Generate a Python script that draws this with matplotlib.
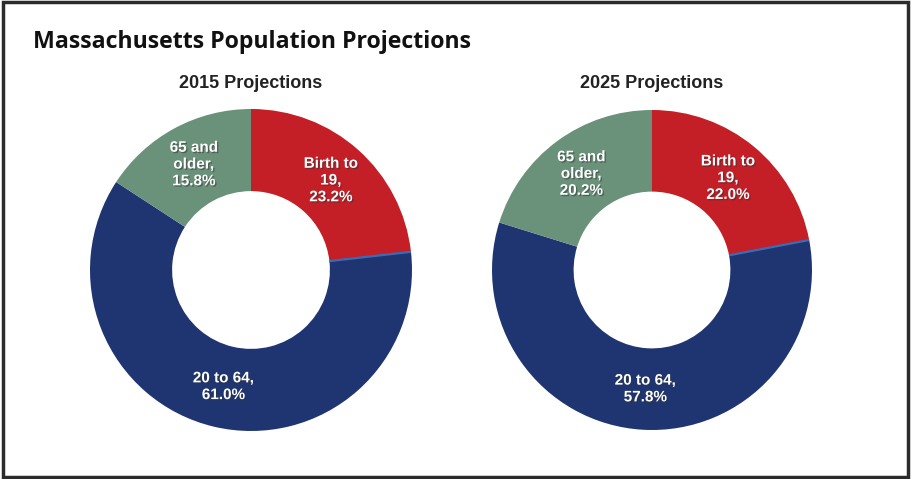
import numpy as np
import matplotlib.pyplot as plt
import matplotlib.patheffects as pe
from matplotlib.patches import Rectangle

# population shares by age group (%)
groups = ['Birth to\n19,', '20 to 64,', '65 and\nolder,']
share_2015 = [23.2, 61.0, 15.8]
share_2025 = [22.0, 57.8, 20.2]
years = ['2015 Projections', '2025 Projections']
colors = ['#C41E26', '#1F3571', '#6A917A']

W, H = 911, 479
fig = plt.figure(figsize=(W / 100, H / 100), dpi=100)

# outer frame
fig.patches.append(Rectangle((0.003, 0.005), 0.994, 0.99, transform=fig.transFigure,
                             fill=False, edgecolor='#2b2b2b', linewidth=2.5))

fig.text(33 / W, 1 - 42 / H, 'Massachusetts Population Projections',
         fontsize=16.7, fontweight='bold', family='Open Sans', va='center', ha='left',
         color='#111111')


def donut(cx, cy, r, values, title):
    ax = fig.add_axes([(cx - r) / W, (H - cy - r) / H, 2 * r / W, 2 * r / H])
    wedges, _ = ax.pie(values, colors=colors, startangle=90, counterclock=False,
                       radius=1.0, wedgeprops=dict(width=0.51, edgecolor='none'))
    # thin highlight along the top edge of the middle slice
    w = wedges[1]
    ang = np.deg2rad(w.theta2)
    ax.plot([0.49 * np.cos(ang), np.cos(ang)], [0.49 * np.sin(ang), np.sin(ang)],
            color='#3C6BB5', lw=1.6, solid_capstyle='butt')
    for wdg, lab, v in zip(wedges, groups, values):
        mid = np.deg2rad((wdg.theta1 + wdg.theta2) / 2)
        ax.text(0.745 * np.cos(mid), 0.745 * np.sin(mid), f'{lab}\n{v:.1f}%',
                ha='center', va='center', color='white', fontsize=11,
                fontweight='bold', family='Liberation Sans', linespacing=1.25,
                path_effects=[pe.withSimplePatchShadow(offset=(1, -1),
                                                       shadow_rgbFace='#333333',
                                                       alpha=0.5)])
    ax.set_xlim(-1, 1)
    ax.set_ylim(-1, 1)
    ax.set_aspect('equal')
    ax.axis('off')
    fig.text(cx / W, 1 - 83 / H, title, ha='center', va='center', fontsize=13,
             fontweight='bold', family='Liberation Sans', color='#222222')


donut(251, 270, 161, share_2015, years[0])
donut(652, 270, 160, share_2025, years[1])

fig.savefig('out.png', dpi=100)
